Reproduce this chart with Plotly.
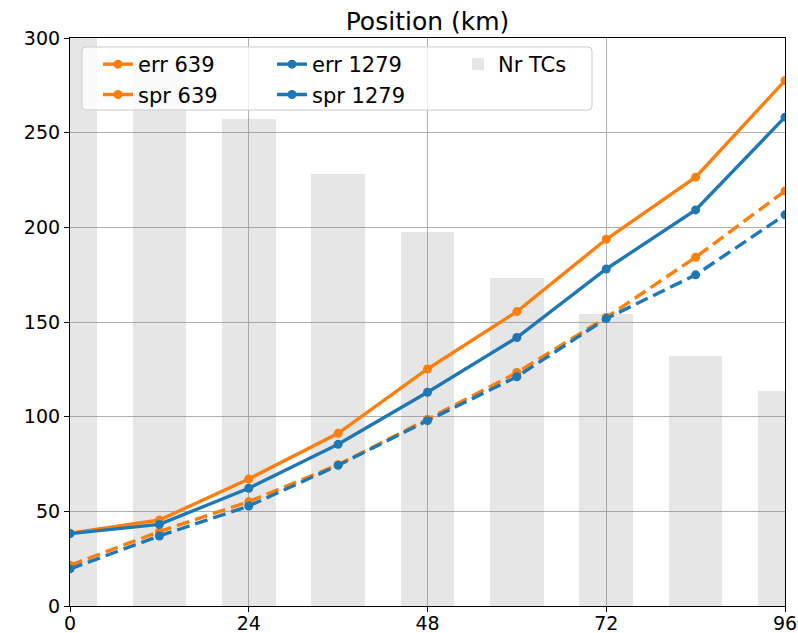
import plotly.graph_objects as go

# Forecast lead time (h)
lead_time = [0, 12, 24, 36, 48, 60, 72, 84, 96]

# Position error and ensemble spread (km)
err_639 = [38.4, 45.4, 67.1, 91.2, 125.2, 155.5, 193.7, 226.5, 277.5]
spr_639 = [21.5, 39.3, 55.1, 74.6, 98.6, 123.3, 152.4, 184.2, 219.2]
err_1279 = [38.2, 43.1, 62.2, 85.4, 112.9, 141.8, 178.0, 209.2, 258.2]
spr_1279 = [19.6, 37.0, 52.8, 74.3, 97.9, 121.1, 151.8, 174.9, 206.6]

# Number of tropical cyclones verified at each lead time
nr_tcs = [318, 288, 257, 228, 197.5, 173, 154, 132, 113.5]

ORANGE = "#ff7f0e"
BLUE = "#1f77b4"
FONT = "DejaVu Sans"

fig = go.Figure()

fig.add_trace(go.Bar(
    x=lead_time, y=nr_tcs, width=7.2, name="Nr TCs",
    marker=dict(color="rgba(128,128,128,0.2)", line=dict(width=0)),
    legend="legend3", showlegend=True,
))


def add_line(y, name, color, dash, legend):
    fig.add_trace(go.Scatter(
        x=lead_time, y=y, name=name, mode="lines+markers",
        line=dict(color=color, width=3.4, dash=dash),
        marker=dict(color=color, size=9),
        legend=legend, legendgroup=name,
    ))


add_line(err_639, "err 639", ORANGE, "solid", "legend")
add_line(spr_639, "spr 639", ORANGE, "13px,6px", "legend")
add_line(err_1279, "err 1279", BLUE, "solid", "legend2")
add_line(spr_1279, "spr 1279", BLUE, "13px,6px", "legend2")

W, H = 798, 633
ML, MR, MT, MB = 70, 13, 38, 27
PW, PH = W - ML - MR, H - MT - MB


def px_x(p):
    return (p - ML) / PW


def px_y(p):
    return (H - MB - p) / PH


# rounded legend frame
x0, x1 = px_x(82), px_x(592)
y0, y1 = px_y(110), px_y(47)
rx, ry = 4 / PW, 4 / PH
frame = (
    f"M {x0 + rx},{y0} L {x1 - rx},{y0} Q {x1},{y0} {x1},{y0 + ry} "
    f"L {x1},{y1 - ry} Q {x1},{y1} {x1 - rx},{y1} "
    f"L {x0 + rx},{y1} Q {x0},{y1} {x0},{y1 - ry} "
    f"L {x0},{y0 + ry} Q {x0},{y0} {x0 + rx},{y0} Z"
)

legend_common = dict(
    bgcolor="rgba(0,0,0,0)", borderwidth=0, xanchor="left", yanchor="top",
    font=dict(family=FONT, size=21, color="#000000"), tracegroupgap=0,
    itemclick=False, itemdoubleclick=False,
)

axis_common = dict(
    showgrid=True, gridcolor="#b0b0b0", gridwidth=1,
    showline=True, linecolor="black", linewidth=1.2, mirror=True,
    ticks="outside", ticklen=5, tickcolor="black", tickwidth=1.2,
    zeroline=False, automargin=False,
    tickfont=dict(family=FONT, size=19, color="#000000"),
)

fig.update_layout(
    width=W, height=H,
    margin=dict(l=ML, r=MR, t=MT, b=MB, autoexpand=False),
    paper_bgcolor="white", plot_bgcolor="white",
    font=dict(family=FONT, size=19, color="#000000"),
    title=dict(text="Position (km)", x=(ML + PW / 2) / W, xanchor="center",
               y=1 - 21 / H, yanchor="middle",
               font=dict(family=FONT, size=25, color="#000000")),
    bargap=0,
    shapes=[dict(type="path", path=frame, xref="paper", yref="paper",
                 fillcolor="rgba(255,255,255,0.8)",
                 line=dict(color="#cccccc", width=1), layer="above")],
    legend=dict(x=px_x(98), y=px_y(44), **legend_common),
    legend2=dict(x=px_x(272), y=px_y(44), **legend_common),
    legend3=dict(x=px_x(458), y=px_y(44), **legend_common),
    xaxis=dict(range=[0, 96], tickvals=[0, 24, 48, 72, 96],
               ticklabelstandoff=-5, **axis_common),
    yaxis=dict(range=[0, 300], tickvals=[0, 50, 100, 150, 200, 250, 300],
               **axis_common),
)

fig.write_html("out.html")
